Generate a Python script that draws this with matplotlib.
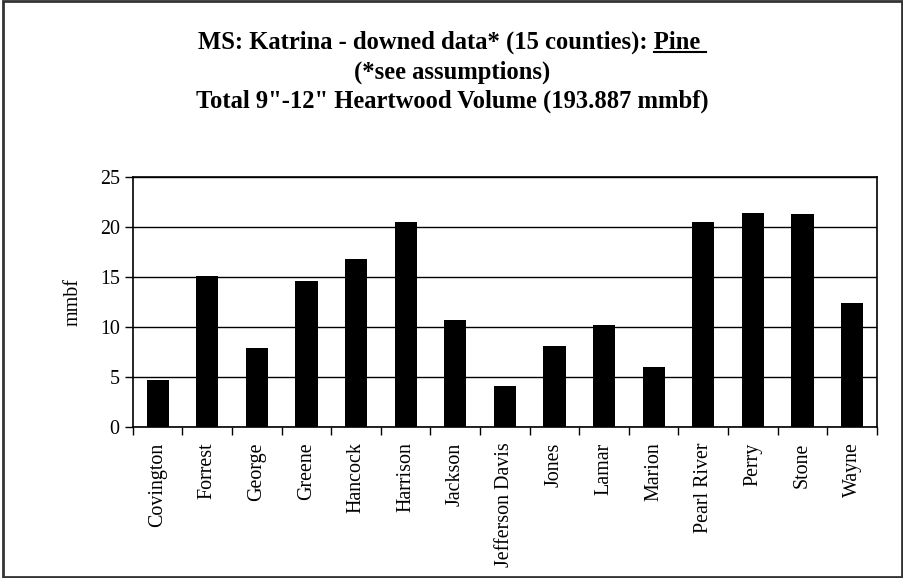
import matplotlib
matplotlib.use("Agg")
import matplotlib.pyplot as plt
from matplotlib.patches import Rectangle
import numpy as np

counties = ["Covington", "Forrest", "George", "Greene", "Hancock", "Harrison",
            "Jackson", "Jefferson Davis", "Jones", "Lamar", "Marion",
            "Pearl River", "Perry", "Stone", "Wayne"]
volume = [4.75, 15.1, 7.9, 14.55, 16.8, 20.5, 10.7, 4.1, 8.1, 10.2, 6.0,
          20.5, 21.4, 21.25, 12.45]
yticks = [0, 5, 10, 15, 20, 25]

plt.rcParams["font.family"] = ["Liberation Serif", "DejaVu Serif"]

fig = plt.figure(figsize=(9.04, 5.78), dpi=100)
ax = fig.add_axes([0.147, 0.261, 0.823, 0.433])

x = np.arange(len(counties))
ax.bar(x, volume, width=0.45, color="black", zorder=3)
ax.set_xlim(-0.5, len(counties) - 0.5)
ax.set_ylim(0, 25)
ax.set_yticks(yticks)
ax.tick_params(axis="y", labelsize=14.4, length=6, width=1, direction="out")
ax.yaxis.grid(True, color="black", linewidth=1, zorder=0)

# category labels at bar centers, tick marks at category boundaries
ax.set_xticks(x)
ax.set_xticklabels(counties, rotation=90, fontsize=14.4)
ax.tick_params(axis="x", which="major", length=0, pad=11)
ax.set_xticks(np.arange(len(counties) + 1) - 0.5, minor=True)
ax.tick_params(axis="x", which="minor", length=6, width=1, direction="out")
for s in ax.spines.values():
    s.set_linewidth(1.2)
    s.set_color("black")
ax.set_ylabel("mmbf", fontsize=14.4, labelpad=12)

tsize = 17.7
line1 = "MS: Katrina - downed data* (15 counties): Pine "
t1 = fig.text(0.5, 0.927, line1, ha="center", va="center", fontsize=tsize, fontweight="bold")
fig.text(0.5, 0.875, "(*see assumptions)", ha="center", va="center", fontsize=tsize, fontweight="bold")
fig.text(0.5, 0.824, "Total 9\"-12\" Heartwood Volume (193.887 mmbf)", ha="center", va="center",
         fontsize=tsize, fontweight="bold")

# underline "Pine "
fig.canvas.draw()
r = fig.canvas.get_renderer()
bb = t1.get_window_extent(r)
tmp = fig.text(0, 0, "Pine ", fontsize=tsize, fontweight="bold")
w = tmp.get_window_extent(r).width
tmp.remove()
x1 = bb.x1 / fig.bbox.width
x0 = (bb.x1 - w) / fig.bbox.width
yl = (bb.y0 + 2) / fig.bbox.height
fig.add_artist(plt.Line2D([x0, x1], [yl, yl], color="black", linewidth=1.5, transform=fig.transFigure))

fig.add_artist(Rectangle((0.0035, 0.002), 0.9945, 0.996, transform=fig.transFigure,
                         fill=False, edgecolor="#333333", linewidth=2))

fig.savefig("out.png", dpi=100)
